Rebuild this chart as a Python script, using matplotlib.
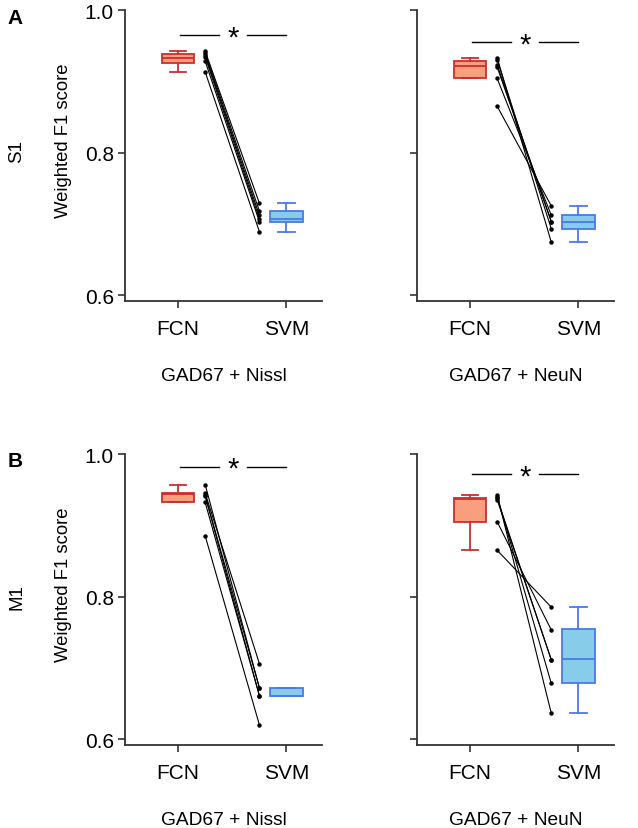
import matplotlib
matplotlib.use("Agg")
import matplotlib.pyplot as plt

plt.rcParams["font.family"] = ["Liberation Sans", "DejaVu Sans"]
plt.rcParams["font.size"] = 13.5

# paired subject scores, one list per panel (FCN -> SVM)
s1_nissl_fcn = [0.942, 0.940, 0.937, 0.934, 0.928, 0.913]
s1_nissl_svm = [0.729, 0.718, 0.712, 0.707, 0.703, 0.689]
s1_neun_fcn = [0.933, 0.930, 0.923, 0.920, 0.904, 0.865]
s1_neun_svm = [0.674, 0.693, 0.703, 0.703, 0.712, 0.725]
m1_nissl_fcn = [0.957, 0.945, 0.942, 0.941, 0.932, 0.885]
m1_nissl_svm = [0.672, 0.706, 0.672, 0.661, 0.661, 0.620]
m1_neun_fcn = [0.943, 0.940, 0.938, 0.936, 0.905, 0.865]
m1_neun_svm = [0.636, 0.678, 0.711, 0.711, 0.753, 0.785]

# box summaries as drawn: (whislo, q1, med, q3, whishi)
s1_nissl_box = [(0.913, 0.926, 0.932, 0.938, 0.942), (0.689, 0.703, 0.707, 0.7175, 0.729)]
s1_neun_box = [(0.904, 0.904, 0.921, 0.928, 0.933), (0.674, 0.692, 0.703, 0.712, 0.725)]
m1_nissl_box = [(0.932, 0.932, 0.944, 0.945, 0.957), (0.661, 0.661, 0.661, 0.672, 0.672)]
m1_neun_box = [(0.865, 0.905, 0.937, 0.938, 0.943), (0.637, 0.678, 0.712, 0.754, 0.785)]

# significance bar heights
sig_heights = [0.965, 0.955, 0.982, 0.972]

methods = ["FCN", "SVM"]
stains = ["GAD67 + Nissl", "GAD67 + NeuN"]
regions = ["S1", "M1"]
panel_letters = ["A", "B"]

EDGE = ["#cc2f2c", "#4a78ee"]
FACE = ["#fa9f7d", "#87cdea"]
SPINE = "#333333"


def draw_panel(ax, fcn, svm, boxes, sig_y, stain, show_ylabels):
    stats = []
    for (lo, q1, med, q3, hi) in boxes:
        stats.append(dict(whislo=lo, q1=q1, med=med, q3=q3, whishi=hi, fliers=[]))
    parts = ax.bxp(stats, positions=[0, 1], widths=0.3, patch_artist=True,
                   showfliers=False, manage_ticks=False)
    for i, box in enumerate(parts["boxes"]):
        box.set_facecolor(FACE[i])
        box.set_edgecolor(EDGE[i])
        box.set_linewidth(1.3)
    for key in ["whiskers", "caps"]:
        for j, line in enumerate(parts[key]):
            line.set_color(EDGE[j // 2])
            line.set_linewidth(1.3)
    for i, line in enumerate(parts["medians"]):
        line.set_color(EDGE[i])
        line.set_linewidth(1.3)

    for a, b in zip(fcn, svm):
        ax.plot([0.25, 0.75], [a, b], color="black", linewidth=0.8,
                marker="o", markersize=2.2)

    ax.plot([0.02, 0.38], [sig_y, sig_y], color="black", linewidth=1.0)
    ax.plot([0.64, 1.0], [sig_y, sig_y], color="black", linewidth=1.0)
    ax.text(0.51, sig_y - 0.003, "*", ha="center", va="center", fontsize=21)

    ax.set_xlim(-0.49, 1.33)
    ax.set_ylim(0.5916, 1.0)
    ax.set_xticks([0, 1])
    ax.set_xticklabels(methods)
    ax.set_yticks([0.6, 0.8, 1.0])
    if show_ylabels:
        ax.set_yticklabels(["0.6", "0.8", "1.0"])
        ax.set_ylabel("Weighted F1 score", fontsize=13.3)
        ax.yaxis.set_label_coords(-0.27, 0.555)
    else:
        ax.set_yticklabels([])
    ax.set_xlabel(stain, labelpad=21, fontsize=13.8)
    for side in ["top", "right"]:
        ax.spines[side].set_visible(False)
    for side in ["left", "bottom"]:
        ax.spines[side].set_color(SPINE)
        ax.spines[side].set_linewidth(1.3)
    ax.tick_params(direction="out", length=5, width=1.2, color=SPINE,
                   labelsize=15)
    ax.tick_params(axis="x", pad=8)
    ax.tick_params(axis="y", pad=3)


fig = plt.figure(figsize=(6.38, 8.29), dpi=100)
lefts = [0.196, 0.6536]
bottoms = [0.6357, 0.1001]
width, height = 0.309, 0.351

panels = [
    [(s1_nissl_fcn, s1_nissl_svm, s1_nissl_box), (s1_neun_fcn, s1_neun_svm, s1_neun_box)],
    [(m1_nissl_fcn, m1_nissl_svm, m1_nissl_box), (m1_neun_fcn, m1_neun_svm, m1_neun_box)],
]

for r in range(2):
    for c in range(2):
        ax = fig.add_axes([lefts[c], bottoms[r], width, height])
        fcn, svm, boxes = panels[r][c]
        draw_panel(ax, fcn, svm, boxes, sig_heights[2 * r + c], stains[c], c == 0)

fig.text(17 / 638, 1 - 152 / 829, regions[0], rotation=90, ha="center", va="center", fontsize=13.5)
fig.text(17 / 638, 1 - 597 / 829, regions[1], rotation=90, ha="center", va="center", fontsize=13.5)
fig.text(15 / 638, 1 - 18 / 829, panel_letters[0], ha="center", va="center",
         fontsize=15, fontweight="bold")
fig.text(15 / 638, 1 - 462 / 829, panel_letters[1], ha="center", va="center",
         fontsize=15, fontweight="bold")

fig.savefig("out.png", dpi=100)
